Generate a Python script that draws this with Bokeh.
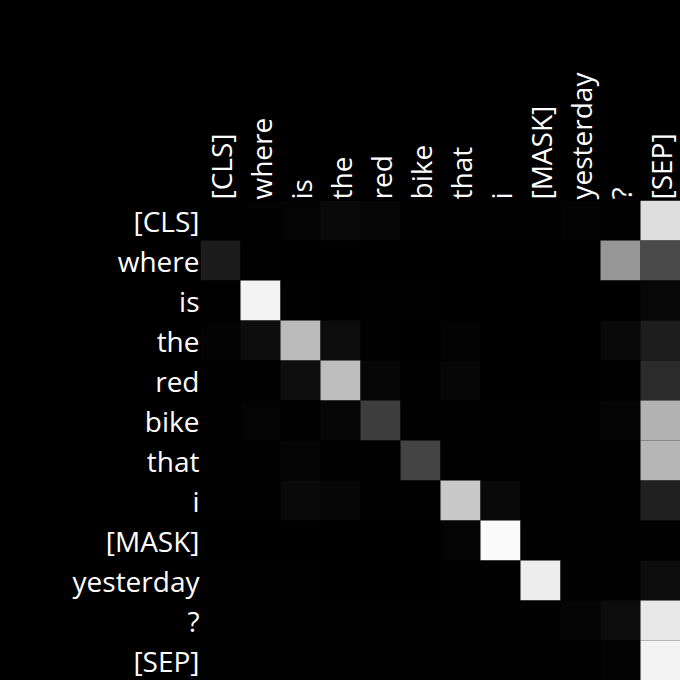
from bokeh.plotting import figure
from bokeh.models import FactorRange, ColumnDataSource, LinearColorMapper
from bokeh.embed import file_html
from bokeh.resources import INLINE

tokens = ["[CLS]", "where", "is", "the", "red", "bike", "that", "i",
          "[MASK]", "yesterday", "?", "[SEP]"]

# attention weights: rows = query token, columns = key token
weights = [
    [0.004, 0.008, 0.016, 0.039, 0.027, 0.004, 0.004, 0.004, 0.004, 0.012, 0.004, 0.871],
    [0.110, 0.004, 0.000, 0.000, 0.000, 0.000, 0.000, 0.000, 0.000, 0.000, 0.588, 0.290],
    [0.004, 0.953, 0.004, 0.000, 0.004, 0.004, 0.000, 0.000, 0.000, 0.000, 0.000, 0.031],
    [0.012, 0.051, 0.729, 0.047, 0.004, 0.000, 0.012, 0.000, 0.000, 0.000, 0.039, 0.114],
    [0.004, 0.004, 0.055, 0.745, 0.024, 0.004, 0.027, 0.000, 0.000, 0.000, 0.004, 0.169],
    [0.004, 0.016, 0.004, 0.027, 0.243, 0.008, 0.004, 0.004, 0.004, 0.004, 0.020, 0.698],
    [0.004, 0.004, 0.020, 0.004, 0.004, 0.267, 0.004, 0.004, 0.004, 0.004, 0.004, 0.714],
    [0.004, 0.004, 0.039, 0.024, 0.004, 0.004, 0.784, 0.039, 0.004, 0.004, 0.004, 0.125],
    [0.000, 0.000, 0.000, 0.000, 0.000, 0.000, 0.016, 0.980, 0.004, 0.004, 0.004, 0.008],
    [0.004, 0.004, 0.004, 0.000, 0.000, 0.000, 0.004, 0.004, 0.929, 0.008, 0.004, 0.051],
    [0.004, 0.008, 0.008, 0.004, 0.004, 0.004, 0.004, 0.004, 0.004, 0.020, 0.047, 0.910],
    [0.004, 0.008, 0.008, 0.004, 0.004, 0.004, 0.004, 0.004, 0.008, 0.008, 0.012, 0.953],
]

xs, ys, vs = [], [], []
for i, row_tok in enumerate(tokens):
    for j, col_tok in enumerate(tokens):
        xs.append(col_tok)
        ys.append(row_tok)
        vs.append(weights[i][j])
src = ColumnDataSource(dict(x=xs, y=ys, v=vs))

grays = ["#%02x%02x%02x" % (k, k, k) for k in range(256)]
mapper = LinearColorMapper(palette=grays, low=0.0, high=1.0)

p = figure(width=680, height=680, output_backend="svg", toolbar_location=None,
           x_range=FactorRange(*tokens), y_range=FactorRange(*reversed(tokens)),
           x_axis_location="above",
           min_border_left=200, min_border_top=200, min_border_right=0, min_border_bottom=0)
p.rect(x="x", y="y", width=1, height=1, source=src,
       fill_color={"field": "v", "transform": mapper}, line_color=None)

p.background_fill_color = "black"
p.border_fill_color = "black"
p.outline_line_color = None
p.grid.grid_line_color = None
p.stylesheets = [":host { background-color: black; }"]
for ax in (p.xaxis[0], p.yaxis[0]):
    ax.axis_line_color = None
    ax.major_tick_line_color = None
    ax.minor_tick_line_color = None
    ax.major_tick_out = 0
    ax.major_tick_in = 0
    ax.major_label_standoff = 1
    ax.major_label_text_color = "white"
    ax.major_label_text_font = "Open Sans"
    ax.major_label_text_font_size = "28px"
p.xaxis.major_label_orientation = "vertical"
p.min_border_left = 200
p.min_border_top = 200

html = file_html(p, INLINE)
html = html.replace("<head>", "<head><style>html, body { background: black; margin: 0; }</style>", 1)
open("out.html", "w").write(html)
